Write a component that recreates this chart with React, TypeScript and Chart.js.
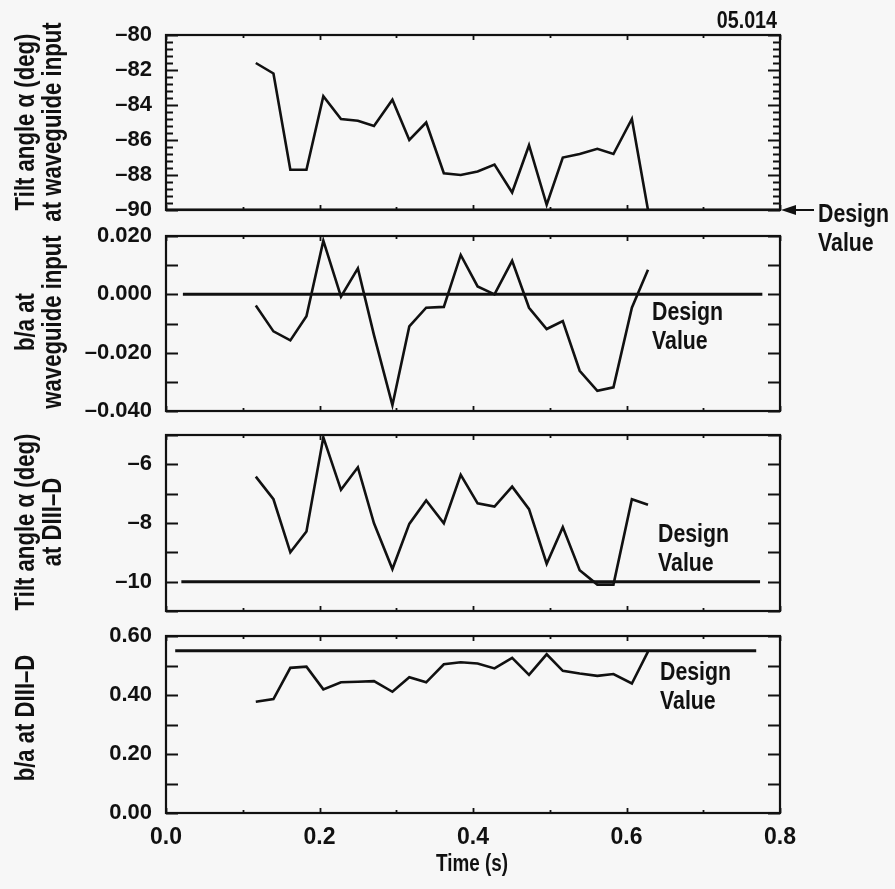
import React, { useEffect, useRef } from "react";
import { Chart, registerables } from "chart.js";

Chart.register(...registerables);

// ---------------- data ----------------
const times = [0.117, 0.140, 0.162, 0.183, 0.205, 0.228, 0.250, 0.271, 0.295, 0.317, 0.339, 0.362, 0.384, 0.406, 0.428, 0.451, 0.473, 0.496, 0.517, 0.539, 0.562, 0.583, 0.607, 0.628];

const tiltWaveguide = [-81.6, -82.2, -87.7, -87.7, -83.5, -84.8, -84.9, -85.2, -83.7, -86.0, -85.0, -87.9, -88.0, -87.8, -87.4, -89.0, -86.3, -89.7, -87.0, -86.8, -86.5, -86.8, -84.8, -90.0];
const baWaveguide = [-0.0038, -0.0127, -0.0158, -0.0075, 0.0184, -0.0008, 0.0089, -0.0140, -0.0380, -0.0110, -0.0046, -0.0043, 0.0135, 0.0027, 0.0000, 0.0115, -0.0046, -0.0119, -0.0092, -0.0262, -0.0331, -0.0319, -0.0046, 0.0084];
const tiltDIIID = [-6.42, -7.19, -9.0, -8.29, -5.08, -6.87, -6.10, -8.01, -9.57, -8.03, -7.23, -8.01, -6.36, -7.33, -7.44, -6.76, -7.53, -9.39, -8.14, -9.61, -10.1, -10.1, -7.19, -7.38];
const baDIIID = [0.377, 0.386, 0.492, 0.496, 0.419, 0.443, 0.445, 0.447, 0.411, 0.460, 0.443, 0.504, 0.511, 0.507, 0.490, 0.526, 0.468, 0.538, 0.482, 0.473, 0.465, 0.471, 0.439, 0.547];

// design values and the time span of each design line
const designValues = [-90, 0, -10, 0.55];
const designFrom = [0, 0.022, 0.02, 0.012];
const designTo = [0.8, 0.777, 0.774, 0.769];

// x axis
const xTicks = [0, 0.2, 0.4, 0.6, 0.8];
const xTickLabels = ["0.0", "0.2", "0.4", "0.6", "0.8"];
const xMinorTicks = [0.1, 0.3, 0.5, 0.7];

// y axes
const p1Range = [-90, -80];
const p1Ticks = [-90, -88, -86, -84, -82, -80];
const p1Labels = ["–90", "–88", "–86", "–84", "–82", "–80"];
const p1Minor = [-89.6, -89.2, -88.8, -88.4, -87.6, -87.2, -86.8, -86.4, -85.6, -85.2, -84.8, -84.4, -83.6, -83.2, -82.8, -82.4, -81.6, -81.2, -80.8, -80.4];

const p2Range = [-0.04, 0.02];
const p2Ticks = [-0.04, -0.02, 0, 0.02];
const p2Labels = ["–0.040", "–0.020", "0.000", "0.020"];
const p2Minor = [-0.03, -0.01, 0.01];

const p3Range = [-11, -5];
const p3Ticks = [-10, -8, -6];
const p3Labels = ["–10", "–8", "–6"];
const p3Minor = [-11, -9, -7, -5];

const p4Range = [0, 0.6];
const p4Ticks = [0, 0.2, 0.4, 0.6];
const p4Labels = ["0.00", "0.20", "0.40", "0.60"];
const p4Minor = [0.1, 0.3, 0.5];

const yTitles = [
  ["Tilt angle α (deg)", "at waveguide input"],
  ["b/a at", "waveguide input"],
  ["Tilt angle α (deg)", "at DIII–D"],
  ["b/a at DIII–D"],
];
const designText = ["Design", "Value"];
const figureId = "05.014";
const xTitle = "Time (s)";

// ---------------- layout ----------------
const W = 895;
const H = 889;
const PLOT_LEFT = 166;
const PLOT_RIGHT = 780;
const SANS = "'Liberation Sans', Arial, sans-serif";
const INK = "#111";
const CONDENSE = 0.82;

type Panel = {
  top: number;
  bottom: number;
  values: number[];
  range: number[];
  ticks: number[];
  labels: string[];
  minor: number[];
  design: number;
  dFrom: number;
  dTo: number;
  titles: string[];
  titleCenterY: number;
  designPos: number[];
};

const panels: Panel[] = [
  { top: 35, bottom: 210, values: tiltWaveguide, range: p1Range, ticks: p1Ticks, labels: p1Labels, minor: p1Minor, design: designValues[0], dFrom: designFrom[0], dTo: designTo[0], titles: yTitles[0], titleCenterY: 122, designPos: [818, 222] },
  { top: 236, bottom: 411, values: baWaveguide, range: p2Range, ticks: p2Ticks, labels: p2Labels, minor: p2Minor, design: designValues[1], dFrom: designFrom[1], dTo: designTo[1], titles: yTitles[1], titleCenterY: 322, designPos: [652, 320] },
  { top: 435, bottom: 611, values: tiltDIIID, range: p3Range, ticks: p3Ticks, labels: p3Labels, minor: p3Minor, design: designValues[2], dFrom: designFrom[2], dTo: designTo[2], titles: yTitles[2], titleCenterY: 522, designPos: [658, 542] },
  { top: 636, bottom: 813, values: baDIIID, range: p4Range, ticks: p4Ticks, labels: p4Labels, minor: p4Minor, design: designValues[3], dFrom: designFrom[3], dTo: designTo[3], titles: yTitles[3], titleCenterY: 718, designPos: [660, 680] },
];

function drawText(ctx: CanvasRenderingContext2D, s: string, x: number, y: number, size: number, align: CanvasTextAlign = "left", rot = 0) {
  ctx.save();
  ctx.translate(x, y);
  if (rot) ctx.rotate(rot);
  ctx.scale(CONDENSE, 1);
  ctx.font = `bold ${size}px ${SANS}`;
  ctx.fillStyle = INK;
  ctx.textAlign = align;
  ctx.textBaseline = "alphabetic";
  ctx.fillText(s, 0, 0);
  ctx.restore();
}

function makeDecor(panel: Panel, index: number) {
  return {
    id: "decor" + index,
    afterDraw(chart: any) {
      const ctx: CanvasRenderingContext2D = chart.ctx;
      const { left, right, top, bottom } = chart.chartArea;
      const ys = chart.scales.y;
      const xs = chart.scales.x;
      ctx.save();
      ctx.strokeStyle = INK;
      ctx.lineWidth = 2.2;
      ctx.strokeRect(left, top, right - left, bottom - top);
      ctx.lineWidth = 1.8;
      ctx.beginPath();
      const yTick = (v: number, len: number) => {
        const py = Math.round(ys.getPixelForValue(v)) + 0.5;
        ctx.moveTo(left, py); ctx.lineTo(left + len, py);
        ctx.moveTo(right, py); ctx.lineTo(right - len, py);
      };
      const xTick = (v: number, len: number) => {
        const px = Math.round(xs.getPixelForValue(v)) + 0.5;
        ctx.moveTo(px, top); ctx.lineTo(px, top + len);
        ctx.moveTo(px, bottom); ctx.lineTo(px, bottom - len);
      };
      panel.ticks.forEach((v) => yTick(v, 12));
      panel.minor.forEach((v) => yTick(v, index === 0 ? 7 : 12));
      xTicks.forEach((v) => xTick(v, 5));
      xMinorTicks.forEach((v) => xTick(v, 3));
      ctx.stroke();
      ctx.restore();

      // y titles
      const baseX = [34, 61];
      panel.titles.forEach((t, i) => drawText(ctx, t, baseX[i], panel.titleCenterY, 27, "center", -Math.PI / 2));

      // design value labels
      const [dx, dy] = panel.designPos;
      drawText(ctx, designText[0], dx, dy, 26);
      drawText(ctx, designText[1], dx, dy + 29, 26);

      if (index === 0) {
        drawText(ctx, figureId, 777, 28, 24, "right");
        const ay = bottom;
        ctx.save();
        ctx.strokeStyle = INK;
        ctx.fillStyle = INK;
        ctx.lineWidth = 2;
        ctx.beginPath();
        ctx.moveTo(814, ay); ctx.lineTo(792, ay);
        ctx.stroke();
        ctx.beginPath();
        ctx.moveTo(781, ay); ctx.lineTo(796, ay - 5); ctx.lineTo(796, ay + 5); ctx.closePath();
        ctx.fill();
        ctx.restore();
      }
      if (index === 3) {
        drawText(ctx, xTitle, (left + right) / 2 - 1, 871, 23, "center");
      }
    },
  };
}

function makeChart(canvas: HTMLCanvasElement, panel: Panel, index: number) {
  const isLast = index === panels.length - 1;
  const xScale: any = {
    type: "linear",
    min: 0,
    max: 0.8,
    display: isLast,
    grid: { display: false, drawTicks: false },
    border: { display: false },
    afterBuildTicks: (s: any) => {
      s.ticks = xTicks.map((v) => ({ value: v }));
    },
    ticks: {
      callback: (_v: any, i: number) => xTickLabels[i],
      font: { family: SANS, weight: "bold", size: 23 },
      color: INK,
      padding: 11,
      maxRotation: 0,
      autoSkip: false,
    },
  };
  if (isLast) {
    xScale.afterFit = (s: any) => {
      s.height = H - panel.bottom;
    };
  }
  return new Chart(canvas, {
    type: "line",
    data: {
      datasets: [
        {
          data: times.map((t, i) => ({ x: t, y: panel.values[i] })),
          borderColor: INK,
          borderWidth: 2.6,
          pointRadius: 0,
          tension: 0,
          fill: false,
        },
        {
          data: [
            { x: panel.dFrom, y: panel.design },
            { x: panel.dTo, y: panel.design },
          ],
          borderColor: INK,
          borderWidth: 3,
          pointRadius: 0,
          fill: false,
        },
      ],
    },
    options: {
      animation: false,
      responsive: false,
      maintainAspectRatio: false,
      devicePixelRatio: 1,
      events: [],
      layout: {
        padding: { left: 0, right: W - PLOT_RIGHT, top: panel.top, bottom: isLast ? 0 : H - panel.bottom },
      },
      plugins: { legend: { display: false }, tooltip: { enabled: false } },
      scales: {
        x: xScale,
        y: {
          type: "linear",
          min: panel.range[0],
          max: panel.range[1],
          grid: { display: false, drawTicks: false },
          border: { display: false },
          afterBuildTicks: (s: any) => {
            s.ticks = panel.ticks.map((v) => ({ value: v }));
          },
          afterFit: (s: any) => {
            s.width = PLOT_LEFT;
          },
          ticks: {
            callback: (_v: any, i: number) => panel.labels[i],
            font: { family: SANS, weight: "bold", size: 22 },
            color: INK,
            padding: 14,
            autoSkip: false,
          },
        },
      },
    },
    plugins: [makeDecor(panel, index)],
  } as any);
}

export default function App() {
  const refs = [useRef<HTMLCanvasElement>(null), useRef<HTMLCanvasElement>(null), useRef<HTMLCanvasElement>(null), useRef<HTMLCanvasElement>(null)];

  useEffect(() => {
    const charts = panels.map((p, i) => makeChart(refs[i].current as HTMLCanvasElement, p, i));
    return () => charts.forEach((c) => c.destroy());
  }, []);

  return (
    <div style={{ position: "absolute", left: 0, top: 0, width: W, height: H, background: "#f7f7f7", overflow: "hidden" }}>
      {panels.map((_, i) => (
        <canvas
          key={i}
          ref={refs[i]}
          width={W}
          height={H}
          style={{ position: "absolute", left: 0, top: 0, width: W, height: H }}
        />
      ))}
    </div>
  );
}
